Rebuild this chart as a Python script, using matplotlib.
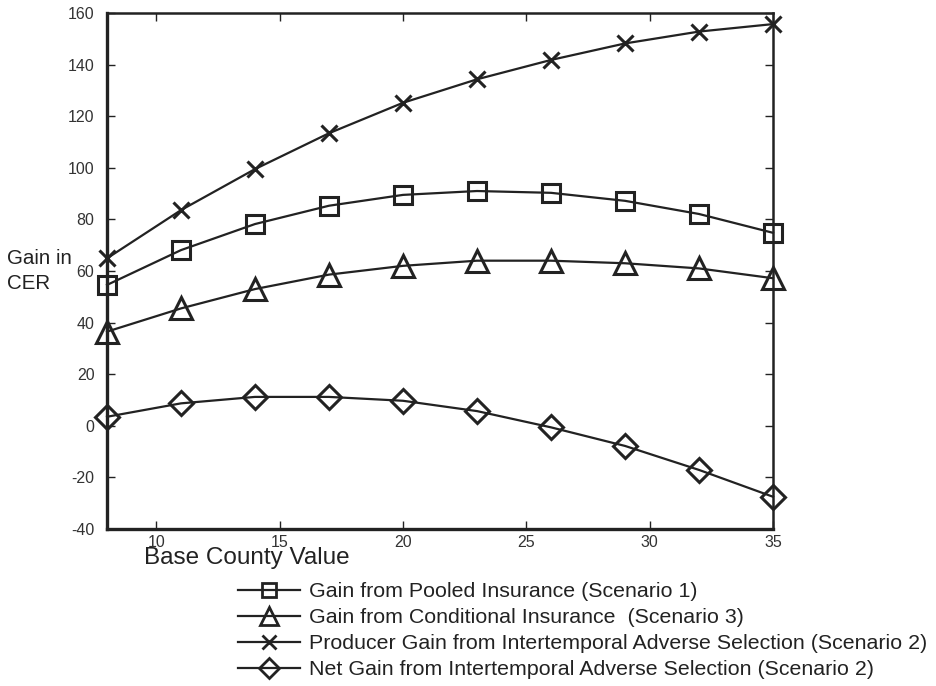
import matplotlib
matplotlib.use("Agg")
import matplotlib.pyplot as plt
from matplotlib.ticker import FuncFormatter

plt.rcParams['font.family'] = ['Liberation Sans', 'DejaVu Sans']

base_value = [8, 11, 14, 17, 20, 23, 26, 29, 32, 35]
pooled = [54.6, 68.1, 78.2, 85.3, 89.5, 91.0, 90.3, 87.2, 82.1, 74.8]
conditional = [36.5, 45.5, 53.0, 58.6, 62.0, 64.0, 64.0, 63.0, 61.0, 57.2]
producer = [64.9, 83.6, 99.5, 113.4, 125.2, 134.3, 141.8, 148.2, 152.8, 155.7]
net_gain = [3.5, 8.7, 11.2, 11.2, 9.7, 5.7, -0.6, -7.8, -17.1, -27.5]

labels = [
    "Gain from Pooled Insurance (Scenario 1)",
    "Gain from Conditional Insurance  (Scenario 3)",
    "Producer Gain from Intertemporal Adverse Selection (Scenario 2)",
    "Net Gain from Intertemporal Adverse Selection (Scenario 2)",
]
xticks = [10, 15, 20, 25, 30, 35]
yticks = [-40, -20, 0, 20, 40, 60, 80, 100, 120, 140, 160]

ink = '#222222'
fig = plt.figure(figsize=(9.37, 6.86), dpi=100)
ax = fig.add_axes([107/937, 1-529/686, (773-107)/937, (529-13)/686])

series = [pooled, conditional, producer, net_gain]
markers = ['s', '^', 'x', 'D']
msizes = [13, 16, 12, 12]
handles = []
for ys, m, ms, lab in zip(series, markers, msizes, labels):
    h, = ax.plot(base_value, ys, color=ink, lw=1.6, marker=m, markersize=ms,
                 markerfacecolor='none', markeredgecolor=ink, markeredgewidth=2.2,
                 label=lab, clip_on=False, zorder=3)
    handles.append(h)

ax.set_xlim(8, 35)
ax.set_ylim(-40, 160)
ax.set_xticks(xticks)
ax.set_yticks(yticks)
fmt = FuncFormatter(lambda v, p: f"{v:g}".replace('\u2212', '-'))
ax.xaxis.set_major_formatter(fmt)
ax.yaxis.set_major_formatter(fmt)
ax.tick_params(direction='in', top=True, right=True, length=6, width=1,
               labelsize=11.5, labelcolor='#333333', color=ink)
ax.tick_params(axis='y', pad=9)
ax.tick_params(axis='x', pad=4)
for side in ['left', 'bottom']:
    ax.spines[side].set_linewidth(2.4)
for side in ['top', 'right']:
    ax.spines[side].set_linewidth(1.8)
for s in ax.spines.values():
    s.set_color(ink)

fig.text(7/937, 1-271/686, "Gain in\nCER", fontsize=14.8, va='center', ha='left',
         color=ink, linespacing=1.45)
fig.text(144/937, 1-558/686, "Base County Value", fontsize=17.5, va='center',
         ha='left', color=ink)

leg = fig.legend(handles=handles, labels=labels, loc='upper left',
                 bbox_to_anchor=(238/937, 1-582/686), frameon=False,
                 fontsize=15.4, handlelength=2.9, handletextpad=0.42,
                 labelspacing=0.33, markerscale=0.82, borderaxespad=0,
                 borderpad=0)
for t in leg.get_texts():
    t.set_color(ink)
for lh in leg.legend_handles:
    lh.set_markeredgewidth(2.0)

fig.savefig("out.png", dpi=100)
